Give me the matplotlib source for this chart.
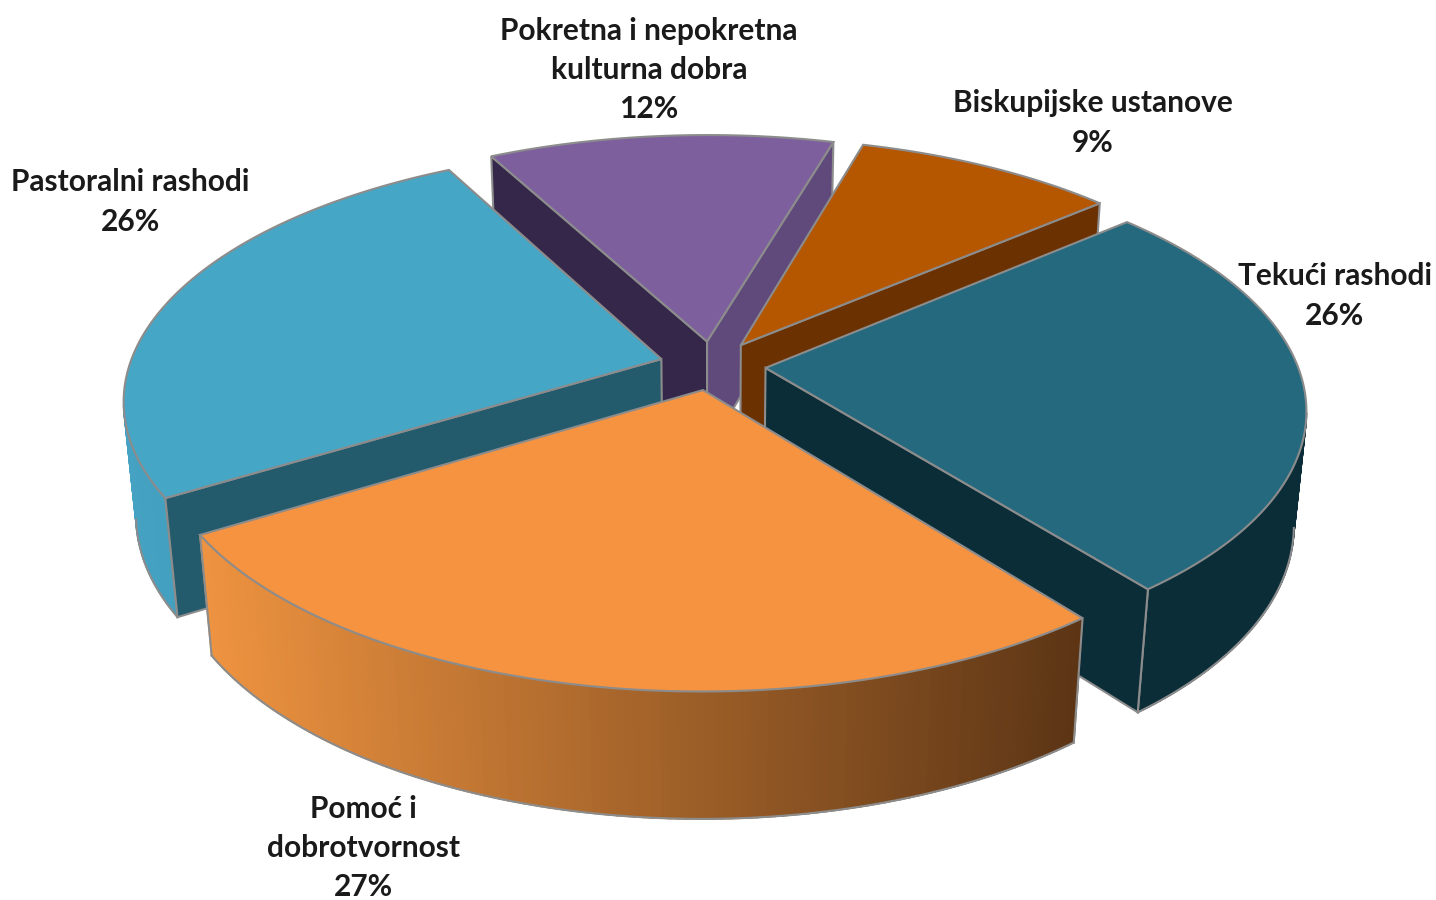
import numpy as np
import matplotlib.pyplot as plt
from matplotlib.patches import Polygon
from matplotlib.colors import to_rgb

# slices, clockwise starting from the purple one
labels = ['Pokretna i nepokretna\nkulturna dobra', 'Biskupijske ustanove', 'Tekući rashodi',
          'Pomoć i\ndobrotvornost', 'Pastoralni rashodi']
values = [12.22, 9.25, 25.73, 26.8, 26.0]
top_colors = ['#7E5F9E', '#B55600', '#25697F', '#F59340', '#45A6C6']
wall_a = ['#604A7C', '#6B3100', '#0B2D38', '#8A5A2A', '#235A6C']  # wall at the clockwise end
wall_b = ['#35274A', '#6B3100', '#0B2D38', '#8A5A2A', '#235A6C']  # wall at the start
side_l = ['#7E5F9E', '#6B3100', '#0B2D38', '#EE9340', '#45A2C2']
side_r = ['#7E5F9E', '#6B3100', '#0B2D38', '#5C3515', '#3A8FAB']
label_xy = [(649, 70), (1093, 123), (1335, 296), (363, 848), (130, 202)]
draw_order = [0, 1, 4, 2, 3]

# projection of the pie
start = 118.0
explode = 0.10
cx, cy = 712.5, 365.5
a, b = 532.0, 245.7
k, m = 0.1567, 0.021
h = 115.0
edge = '#8C8C8C'


def project(u, v, z):
    w = 1 + k*v + m*z
    return np.column_stack((cx + a*u/w, cy + (-b*v + h*z)/w))


def faces_viewer(nu, nv, pu, pv):
    # viewer sits where the denominator of project() goes to zero
    return nu*(0 - pu) + nv*(-1/k - pv) > 0


fig = plt.figure(figsize=(14.36, 9), dpi=100)
ax = fig.add_axes([0, 0, 1, 1])
ax.set_xlim(0, 1436)
ax.set_ylim(900, 0)
ax.axis('off')

bounds = start - np.cumsum([0] + values)*3.6
zo = 1
for i in draw_order:
    t0, t1 = bounds[i], bounds[i+1]
    mid = np.radians((t0 + t1)/2)
    ou, ov = explode*np.cos(mid), explode*np.sin(mid)
    th = np.radians(np.linspace(t0, t1, 121))
    u = ou + np.cos(th)
    v = ov + np.sin(th)
    top = project(u, v, 0*u)
    bot = project(u, v, 0*u + 1)
    apex_t = project(np.array([ou]), np.array([ov]), np.array([0]))
    apex_b = project(np.array([ou]), np.array([ov]), np.array([1]))

    # outer rim, only the part that faces us, shaded left to right
    vis = faces_viewer(np.cos(th), np.sin(th), u, v)
    xs = top[:, 0]
    c0, c1 = np.array(to_rgb(side_l[i])), np.array(to_rgb(side_r[i]))
    for j in range(len(th) - 1):
        if vis[j] and vis[j+1]:
            f = ((xs[j] + xs[j+1])/2 - xs.min())/(xs.max() - xs.min())
            col = c0 + (c1 - c0)*f
            ax.add_patch(Polygon(np.vstack((top[j:j+2], bot[j:j+2][::-1])), fc=col, ec=col, lw=1.2, zorder=zo))
    zo = zo + 1
    if vis.any():
        ax.plot(bot[vis, 0], bot[vis, 1], color=edge, lw=1.5, zorder=zo)
        if vis[0]:
            ax.plot([top[0, 0], bot[0, 0]], [top[0, 1], bot[0, 1]], color=edge, lw=1.5, zorder=zo)
        if vis[-1]:
            ax.plot([top[-1, 0], bot[-1, 0]], [top[-1, 1], bot[-1, 1]], color=edge, lw=1.5, zorder=zo)
    zo = zo + 1

    # cut walls
    if faces_viewer(-np.sin(th[0]), np.cos(th[0]), ou, ov):
        ax.add_patch(Polygon(np.vstack((apex_t, top[:1], bot[:1], apex_b)), fc=wall_b[i], ec=edge, lw=1.5, zorder=zo))
    if faces_viewer(np.sin(th[-1]), -np.cos(th[-1]), ou, ov):
        ax.add_patch(Polygon(np.vstack((apex_t, top[-1:], bot[-1:], apex_b)), fc=wall_a[i], ec=edge, lw=1.5, zorder=zo))
    zo = zo + 1

    # top face
    ax.add_patch(Polygon(np.vstack((apex_t, top)), fc=top_colors[i], ec=edge, lw=1.5, zorder=zo))
    zo = zo + 1

for name, val, (x, y) in zip(labels, values, label_xy):
    ax.text(x, y, name + '\n' + str(round(val)) + '%', ha='center', va='center', family='Lato',
            fontweight='bold', fontsize=21.5, linespacing=1.49, color='#1A1A1A', zorder=zo)

fig.savefig('out.png', dpi=100)
